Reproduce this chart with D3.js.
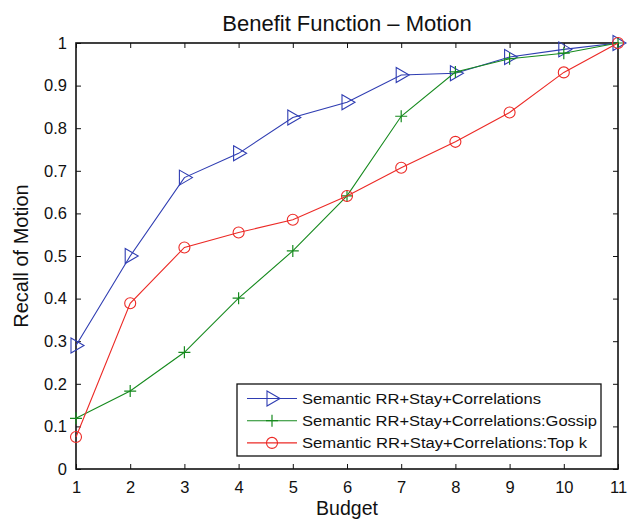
<!DOCTYPE html>
<html>
<head>
<meta charset="utf-8">
<script src="https://cdn.jsdelivr.net/npm/d3@7"></script>
<style>
  body { margin: 0; background: #fff; }
  svg { font-family: "Liberation Sans", Arial, sans-serif; }
</style>
</head>
<body>
<div id="viz"></div>
<script>
// data
var budget = [1, 2, 3, 4, 5, 6, 7, 8, 9, 10, 11];
var recallCorrelations = [0.290, 0.500, 0.684, 0.741, 0.825, 0.861, 0.925, 0.929, 0.967, 0.985, 1.0];
var recallGossip = [0.119, 0.183, 0.274, 0.401, 0.512, 0.641, 0.828, 0.932, 0.963, 0.976, 1.0];
var recallTopK = [0.075, 0.389, 0.520, 0.555, 0.585, 0.641, 0.707, 0.768, 0.837, 0.931, 1.0];
var seriesNames = ["Semantic RR+Stay+Correlations", "Semantic RR+Stay+Correlations:Gossip", "Semantic RR+Stay+Correlations:Top k"];
var yTicks = [0, 0.1, 0.2, 0.3, 0.4, 0.5, 0.6, 0.7, 0.8, 0.9, 1];

var width = 629, height = 521;
var margin = {left: 76, right: 11, top: 43, bottom: 52};

var series = [
  {name: seriesNames[0], values: recallCorrelations, color: "#2f3db2", marker: "tri", textWidth: 239},
  {name: seriesNames[1], values: recallGossip, color: "#168a1e", marker: "plus", textWidth: 295},
  {name: seriesNames[2], values: recallTopK, color: "#ec2a26", marker: "circle", textWidth: 285}
];

var svg = d3.select("#viz").append("svg")
    .attr("width", width)
    .attr("height", height);

var x = d3.scaleLinear().domain([1, 11]).range([margin.left, width - margin.right]);
var y = d3.scaleLinear().domain([0, 1]).range([height - margin.bottom, margin.top]);

// mirrored inward ticks like matlab
var tickLen = 5;
svg.append("g")
    .attr("transform", "translate(0," + y(0) + ")")
    .call(d3.axisBottom(x).tickValues(budget).tickSizeInner(-tickLen).tickSizeOuter(0).tickPadding(12).tickFormat(d3.format("d")))
    .call(function(g) { g.select(".domain").remove(); });
svg.append("g")
    .attr("transform", "translate(0," + y(1) + ")")
    .call(d3.axisTop(x).tickValues(budget).tickSizeInner(-tickLen).tickSizeOuter(0).tickFormat(""))
    .call(function(g) { g.select(".domain").remove(); });
svg.append("g")
    .attr("transform", "translate(" + x(1) + ",0)")
    .call(d3.axisLeft(y).tickValues(yTicks).tickSizeInner(-tickLen).tickSizeOuter(0).tickPadding(9).tickFormat(function(d) { return d === 0 || d === 1 ? d3.format("d")(d) : d3.format(".1f")(d); }))
    .call(function(g) { g.select(".domain").remove(); });
svg.append("g")
    .attr("transform", "translate(" + x(11) + ",0)")
    .call(d3.axisRight(y).tickValues(yTicks).tickSizeInner(-tickLen).tickSizeOuter(0).tickFormat(""))
    .call(function(g) { g.select(".domain").remove(); });

svg.selectAll(".tick text")
    .style("font-size", "16.5px")
    .style("fill", "#111")
    .style("font-family", "'Liberation Sans', Arial, sans-serif");
svg.selectAll(".tick line").style("stroke", "#111");

// frame
svg.append("rect")
    .attr("x", x(1)).attr("y", y(1))
    .attr("width", x(11) - x(1)).attr("height", y(0) - y(1))
    .style("fill", "none").style("stroke", "#111").style("stroke-width", 1.6);

var line = d3.line()
    .x(function(d, i) { return x(budget[i]); })
    .y(function(d) { return y(d); });

function drawMarker(g, type, color) {
  if (type === "tri") {
    g.append("path").attr("d", "M-5,-7.5 L8,0 L-5,7.5 Z")
      .style("fill", "none").style("stroke", color).style("stroke-width", 1.1);
  } else if (type === "plus") {
    g.append("path").attr("d", "M-6,0 L6,0 M0,-6 L0,6")
      .style("fill", "none").style("stroke", color).style("stroke-width", 1.2);
  } else {
    g.append("circle").attr("r", 5.5)
      .style("fill", "none").style("stroke", color).style("stroke-width", 1.1);
  }
}

series.forEach(function(s) {
  svg.append("path")
      .datum(s.values)
      .attr("d", line)
      .style("fill", "none")
      .style("stroke", s.color)
      .style("stroke-width", 1.1);
  s.values.forEach(function(v, i) {
    var g = svg.append("g").attr("transform", "translate(" + x(budget[i]) + "," + y(v) + ")");
    drawMarker(g, s.marker, s.color);
  });
});

// legend
var legend = svg.append("g").attr("transform", "translate(237,384)");
legend.append("rect")
    .attr("width", 364).attr("height", 72)
    .style("fill", "#fff").style("stroke", "#111").style("stroke-width", 1.3);
series.forEach(function(s, i) {
  var ly = 14.5 + i * 22.2;
  legend.append("line")
      .attr("x1", 10).attr("x2", 60).attr("y1", ly).attr("y2", ly)
      .style("stroke", s.color).style("stroke-width", 1.1);
  drawMarker(legend.append("g").attr("transform", "translate(35," + ly + ")"), s.marker, s.color);
  legend.append("text")
      .attr("x", 65).attr("y", ly + 5.5)
      .attr("textLength", s.textWidth)
      .attr("lengthAdjust", "spacingAndGlyphs")
      .style("font-size", "15.5px").style("fill", "#111")
      .text(s.name);
});

// titles
svg.append("text")
    .attr("x", 347).attr("y", 30.5)
    .attr("text-anchor", "middle")
    .style("font-size", "22px").style("fill", "#111")
    .text("Benefit Function \u2013 Motion");
svg.append("text")
    .attr("x", 347).attr("y", 515)
    .attr("text-anchor", "middle")
    .style("font-size", "19.5px").style("fill", "#111")
    .text("Budget");
svg.append("text")
    .attr("transform", "translate(28," + ((y(0) + y(1)) / 2) + ") rotate(-90)")
    .attr("text-anchor", "middle")
    .style("font-size", "20px").style("fill", "#111")
    .text("Recall of Motion");
</script>
</body>
</html>
